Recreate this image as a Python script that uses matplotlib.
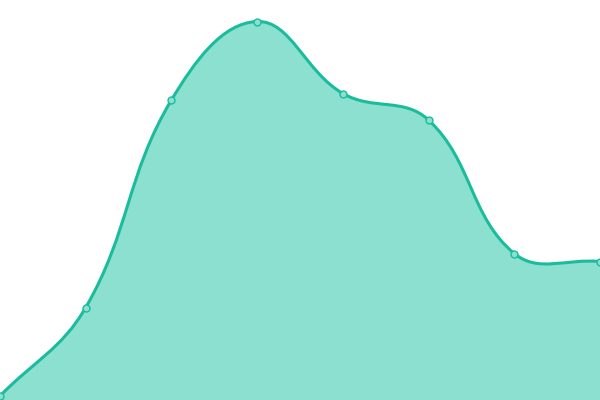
import numpy as np
import matplotlib
matplotlib.use("Agg")
import matplotlib.pyplot as plt
from matplotlib.path import Path
from matplotlib.patches import PathPatch

# wartości
x_vals = [0, 1, 2, 3, 4, 5, 6, 7]
y_vals = [4, 92.5, 300, 378.5, 306.5, 280, 146.5, 138.5]

line_color = "#1abc9c"
fill_color = "#8be0cf"

W, H = 600, 400


def to_px(xs, ys):
    # skala x: 0..7 -> 0..600, skala y: 0..400 -> piksele
    px = np.array(xs, dtype=float) * W / (len(xs) - 1)
    py = np.array(ys, dtype=float)
    return px, py


def spline_path(px, py, tension=0.4):
    n = len(px)
    cps = []
    for i in range(n):
        p = np.array([px[i], py[i]])
        prev = np.array([px[max(i - 1, 0)], py[max(i - 1, 0)]])
        nxt = np.array([px[min(i + 1, n - 1)], py[min(i + 1, n - 1)]])
        d01 = np.hypot(*(p - prev))
        d12 = np.hypot(*(nxt - p))
        tot = d01 + d12
        s01 = d01 / tot if tot else 0
        s12 = d12 / tot if tot else 0
        c_prev = p - tension * s01 * (nxt - prev)
        c_next = p + tension * s12 * (nxt - prev)
        c_prev = np.clip(c_prev, [0, 0], [W, H])
        c_next = np.clip(c_next, [0, 0], [W, H])
        cps.append((c_prev, c_next))
    verts = [(px[0], py[0])]
    codes = [Path.MOVETO]
    for i in range(n - 1):
        verts += [tuple(cps[i][1]), tuple(cps[i + 1][0]), (px[i + 1], py[i + 1])]
        codes += [Path.CURVE4] * 3
    return verts, codes


px, py = to_px(x_vals, y_vals)
verts, codes = spline_path(px, py)

fig = plt.figure(figsize=(6, 4), dpi=100)
ax = fig.add_axes([0, 0, 1, 1])
ax.set_xlim(0, W)
ax.set_ylim(0, H)
ax.axis("off")

fill_verts = verts + [(px[-1], 0), (px[0], 0), verts[0]]
fill_codes = codes + [Path.LINETO, Path.LINETO, Path.CLOSEPOLY]
ax.add_patch(PathPatch(Path(fill_verts, fill_codes), facecolor=fill_color,
                       edgecolor="none"))
ax.add_patch(PathPatch(Path(verts, codes), facecolor="none",
                       edgecolor=line_color, lw=2.2))
ax.plot(px, py, "o", ms=5, mfc="#8be0cf", mec=line_color, mew=1, clip_on=False)

fig.savefig("out.png", dpi=100)
